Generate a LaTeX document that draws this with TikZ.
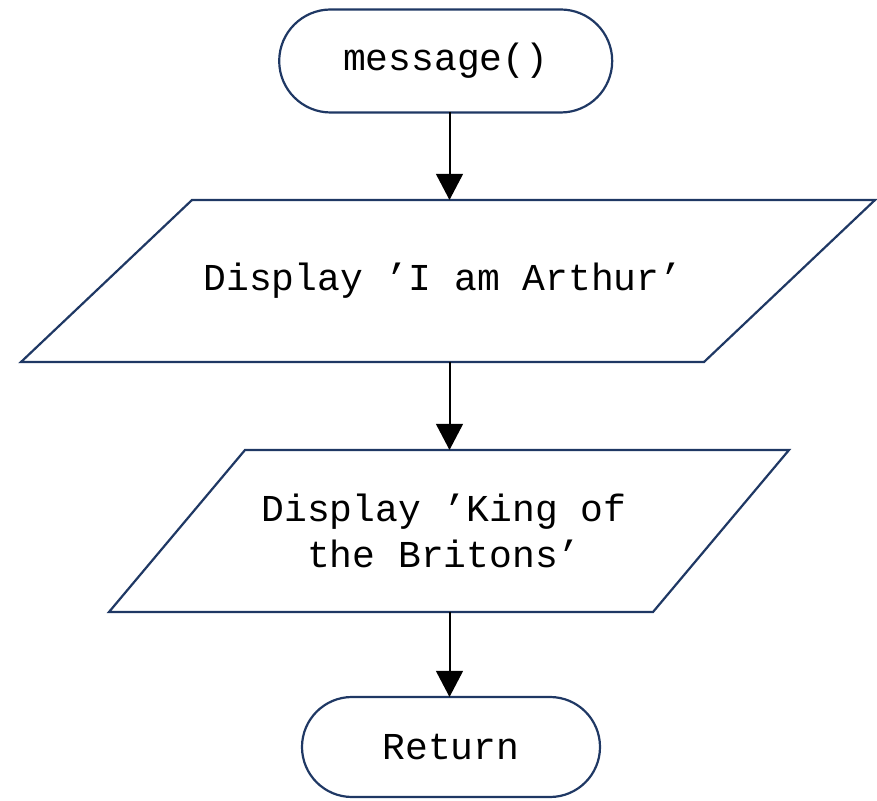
\documentclass[tikz,border=0pt]{standalone}
\usepackage{fontspec}
\setmonofont{Liberation Mono}
\usetikzlibrary{arrows.meta,calc}
\definecolor{outline}{HTML}{1F3864}
\tikzset{
  x=1pt, y=1pt,
  every node/.style={inner sep=0pt, outer sep=0pt, font=\ttfamily\fontsize{38}{46}\selectfont, text=black},
  terminal/.style={draw=outline, line width=2.2pt, rounded corners=#1, fill=white},
  iobox/.style={draw=none},
  ioshape/.style={draw=outline, line width=2.2pt, fill=white},
  flow/.style={draw=black, line width=2pt, -{Triangle[width=26.7pt,length=26pt]}}
}
% parallelogram drawn over the box of a node: #1 node, #2 slant offset
\newcommand{\ioframe}[2]{%
  \draw[ioshape] (#1.south west) -- ($(#1.north west)+(#2,0)$) -- (#1.north east)
    -- ($(#1.south east)-(#2,0)$) -- cycle;}
\begin{document}
\begin{tikzpicture}
\useasboundingbox (0,0) rectangle (877,800);
\coordinate (spine) at (449.5,0);

% start terminal
\node[terminal=51.5pt, minimum width=333pt, minimum height=103pt] (start) at (445.7,739) {message()};

% first output
\node[iobox, minimum width=854pt, minimum height=162pt] (io1) at (448,519) {};
\ioframe{io1}{171}
\node (io1text) at (443,519) {Display ’I am Arthur’};

% second output
\node[iobox, minimum width=680pt, minimum height=162pt] (io2) at (449,269) {};
\ioframe{io2}{136}
\node[align=center] (io2text) at (444,269) {Display ’King of\\the Britons’};

% end terminal
\node[terminal=50pt, minimum width=298pt, minimum height=100pt] (ret) at (451,53) {Return};

% connectors
\draw[flow] (start.south -| spine) -- (io1.north -| spine);
\draw[flow] (io1.south -| spine) -- (io2.north -| spine);
\draw[flow] (io2.south -| spine) -- (ret.north -| spine);
\end{tikzpicture}
\end{document}
